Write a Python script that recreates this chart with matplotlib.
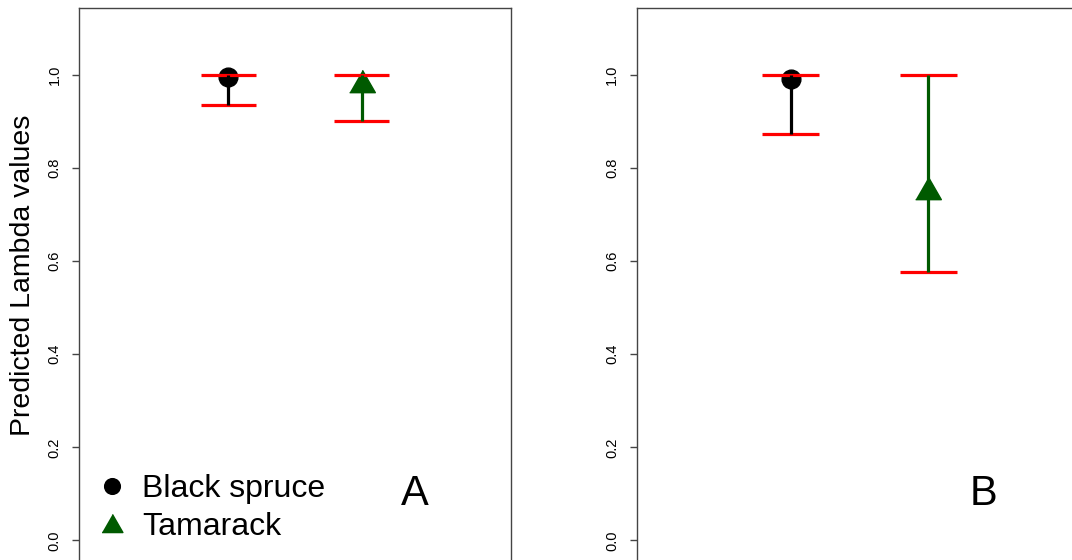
import matplotlib
matplotlib.use('Agg')
import matplotlib.pyplot as plt
from matplotlib.lines import Line2D

plt.rcParams['font.family'] = ['Liberation Sans', 'DejaVu Sans']

# ---------------------------------------------------------------------
# Data
# ---------------------------------------------------------------------
species = ['Black spruce', 'Tamarack']
xpos = [1, 2]

mean_a = [0.996, 0.988]
lower_a = [0.935, 0.901]
upper_a = [1.0, 1.0]

mean_b = [0.993, 0.757]
lower_b = [0.874, 0.578]
upper_b = [1.0, 1.0]

panel_labels = ['A', 'B']
yticks = [0.0, 0.2, 0.4, 0.6, 0.8, 1.0]

point_colors = ['black', '#005a00']
tri = [(-1, -0.87), (1, -0.87), (0, 0.87)]
markers = ['o', tri]
msizes = [13.5, 18.5]


def draw_panel(ax, means, lows, highs, label):
    for i in range(len(xpos)):
        ax.plot(xpos[i], means[i], marker=markers[i], markersize=msizes[i],
                color=point_colors[i], linestyle='None', zorder=3)
        ax.hlines([lows[i], highs[i]], xpos[i] - 0.205, xpos[i] + 0.205,
                  color='#ff0000', linewidth=2.3, zorder=4)
        ax.vlines(xpos[i], lows[i], highs[i], color=point_colors[i],
                  linewidth=2.3, zorder=5)
    ax.set_xlim(-0.12, 3.12)
    ax.set_ylim(-0.044, 1.144)
    ax.set_xticks([])
    ax.set_yticks(yticks)
    ax.set_yticklabels(['{0:.1f}'.format(v) for v in yticks])
    ax.tick_params(axis='y', direction='out', length=5, width=1.0,
                   color='#444444', labelsize=10.5, pad=7.5, labelrotation=90)
    for lbl in ax.get_yticklabels():
        lbl.set_verticalalignment('center')
    for sp in ax.spines.values():
        sp.set_color('#444444')
        sp.set_linewidth(1.0)
    ax.text(2.4, 0.1, label, fontsize=30, ha='center', va='center')


fig = plt.figure(figsize=(10.72, 5.6), dpi=100)
ax1 = fig.add_axes([79 / 1072, -0.8 / 560, 432 / 1072, 552.5 / 560])
ax2 = fig.add_axes([636.6 / 1072, -0.8 / 560, 445.8 / 1072, 552.5 / 560])

draw_panel(ax1, mean_a, lower_a, upper_a, panel_labels[0])
draw_panel(ax2, mean_b, lower_b, upper_b, panel_labels[1])

ax1.set_ylabel('Predicted Lambda values', fontsize=20.5)
ax1.yaxis.label.set_verticalalignment('center')
ax1.yaxis.set_label_coords(-0.13, 0.517)

handles = [Line2D([], [], marker=markers[0], markersize=11.3, color=point_colors[0], linestyle='None'),
           Line2D([], [], marker=markers[1], markersize=15, color=point_colors[1], linestyle='None')]
ax1.legend(handles, species, loc='lower left', bbox_to_anchor=(0.0396, 0.0348),
           frameon=False, fontsize=23, handlelength=1.0, handletextpad=0.45,
           labelspacing=0.24, borderpad=0, borderaxespad=0)

plt.savefig('out.png', dpi=100)
plt.close(fig)
